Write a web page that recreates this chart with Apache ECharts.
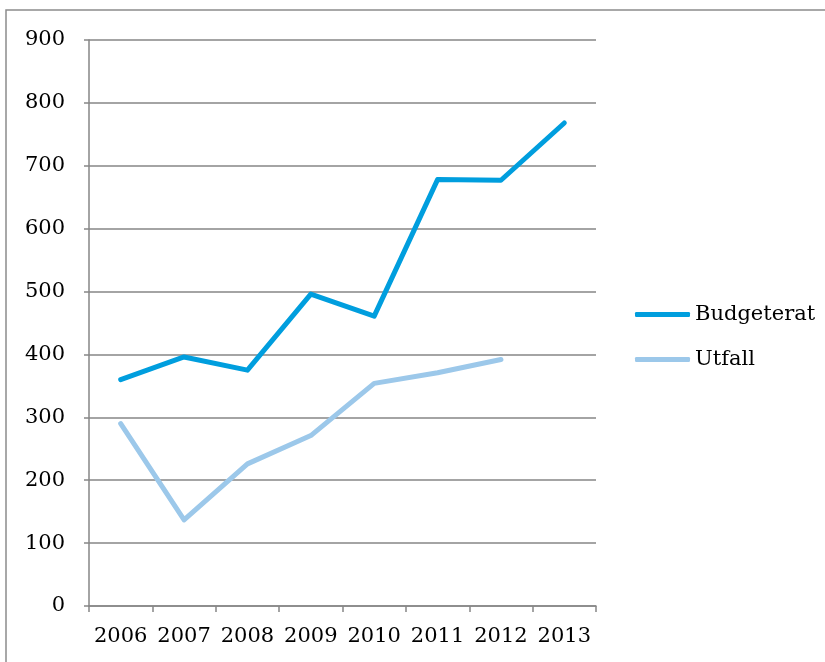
<!DOCTYPE html>
<html><head><meta charset="utf-8">
<script src="https://cdn.jsdelivr.net/npm/echarts@6/dist/echarts.min.js"></script>
<style>html,body{margin:0;padding:0;background:#fff;}#c{width:825px;height:662px;}</style>
</head><body><div id="c"></div>
<script>
const categories = ['2006','2007','2008','2009','2010','2011','2012','2013'];
const budgeterat = [360, 396, 375, 496, 461, 678, 677, 768];
const utfall = [290, 137, 226, 271, 354, 371, 392, null];
const yTicks = {min: 0, max: 900, interval: 100};

const font = '"DejaVu Serif", "Liberation Serif", serif';
const chart = echarts.init(document.getElementById('c'));
chart.setOption({
  animation: false,
  backgroundColor: '#fff',
  graphic: [{type: 'rect', shape: {x: 6, y: 10, width: 900, height: 800}, style: {fill: 'none', stroke: '#8c8c8c', lineWidth: 1.5}, z: -1}],
  grid: {left: 89, top: 40, right: 229, bottom: 56, containLabel: false},
  legend: {
    orient: 'vertical', left: 635, top: 304, itemWidth: 55, itemHeight: 5, itemGap: 24,
    icon: 'roundRect', padding: 0,
    textStyle: {fontFamily: font, fontSize: 21, color: '#000'},
    data: ['Budgeterat', 'Utfall']
  },
  xAxis: {
    type: 'category', data: categories, boundaryGap: true,
    axisLine: {lineStyle: {color: '#868686', width: 1.5}},
    axisTick: {show: true, interval: 0, length: 6, lineStyle: {color: '#868686', width: 1.5}},
    axisLabel: {interval: 0, hideOverlap: false, fontFamily: font, fontSize: 21, color: '#000', margin: 20}
  },
  yAxis: {
    type: 'value', min: yTicks.min, max: yTicks.max, interval: yTicks.interval,
    axisLine: {show: true, lineStyle: {color: '#868686', width: 1.5}},
    axisTick: {show: true, length: 5, lineStyle: {color: '#868686', width: 1.5}},
    splitLine: {lineStyle: {color: '#868686', width: 1.5}},
    axisLabel: {fontFamily: font, fontSize: 21, color: '#000', margin: 24}
  },
  series: [
    {name: 'Budgeterat', type: 'line', data: budgeterat, symbol: 'none', lineStyle: {width: 5, color: '#009ede', cap: 'round', join: 'round'}, itemStyle: {color: '#009ede'}},
    {name: 'Utfall', type: 'line', data: utfall, symbol: 'none', lineStyle: {width: 5, color: '#9cc8ea', cap: 'round', join: 'round'}, itemStyle: {color: '#9cc8ea'}}
  ]
});
</script></body></html>
